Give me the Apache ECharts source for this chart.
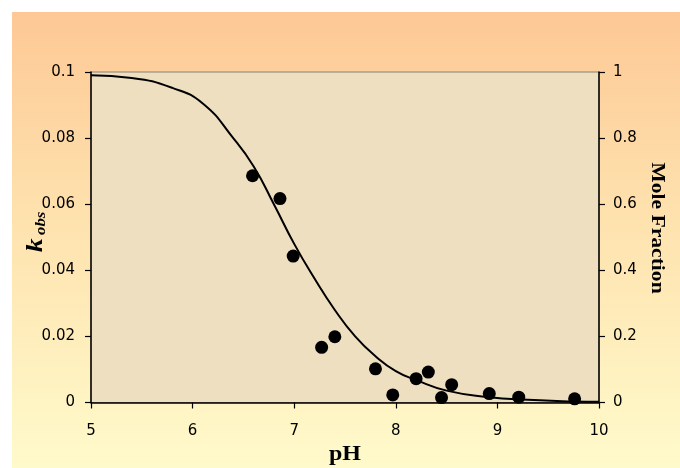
<!DOCTYPE html>
<html>
<head>
<meta charset="utf-8">
<script src="https://cdn.jsdelivr.net/npm/echarts@6/dist/echarts.min.js"></script>
<style>
  html, body { margin: 0; padding: 0; background: #ffffff; }
  #chart { width: 680px; height: 468px; }
</style>
</head>
<body>
<div id="chart"></div>
<script>
// Measured rate constants versus pH
const phObs = [6.59, 6.86, 6.99, 7.27, 7.40, 7.80, 7.97, 8.20, 8.32, 8.45, 8.55, 8.92, 9.21, 9.76];
const kObs  = [0.0686, 0.0617, 0.0443, 0.0167, 0.0199, 0.0102, 0.0023, 0.0072, 0.0092, 0.0015, 0.0054, 0.0027, 0.0016, 0.0011];

// Mole fraction curve (right axis)
const phCurve   = [5.0, 5.4, 5.8, 6.1, 6.4, 6.6, 6.8, 7.0, 7.2, 7.4, 7.6, 7.8, 8.0, 8.2, 8.5, 8.9, 9.3, 9.75, 10.0];
const fracCurve = [0.99, 0.982, 0.952, 0.905, 0.80, 0.715, 0.60, 0.48, 0.375, 0.28, 0.20, 0.14, 0.095, 0.068, 0.036, 0.017, 0.008, 0.003, 0.002];

const xTicks = { min: 5, max: 10, interval: 1 };
const kTicks = { min: 0, max: 0.1, interval: 0.02 };
const fTicks = { min: 0, max: 1, interval: 0.2 };

const chart = echarts.init(document.getElementById('chart'), null, { renderer: 'canvas' });

const serif = 'Liberation Serif, Times New Roman, serif';
const labelFont = { fontFamily: 'DejaVu Sans, sans-serif', fontSize: 15, color: '#000' };
const axisLine = { show: true, lineStyle: { color: '#000', width: 1.5 } };
const axisTick = { show: true, length: 6, lineStyle: { color: '#000', width: 1.2 } };

chart.setOption({
  animation: false,
  graphic: [{
    type: 'rect',
    z: -10,
    silent: true,
    shape: { x: 12, y: 12, width: 668, height: 456 },
    style: {
      fill: new echarts.graphic.LinearGradient(0, 0, 0, 1, [
        { offset: 0, color: '#fdc895' },
        { offset: 0.45, color: '#fee2ae' },
        { offset: 1, color: '#fffacb' }
      ])
    }
  }, {
    // axis titles (text drawn slightly wide, as in the original chart)
    type: 'text',
    x: 345, y: 455,
    scaleX: 1.2,
    style: { text: 'pH', font: 'bold 20px ' + serif, fill: '#000', align: 'center', verticalAlign: 'middle' }
  }, {
    type: 'text',
    x: 657, y: 228,
    rotation: -Math.PI / 2,
    scaleX: 1.2,
    style: { text: 'Mole Fraction', font: 'bold 18px ' + serif, fill: '#000', align: 'center', verticalAlign: 'middle' }
  }, {
    type: 'text',
    x: 36, y: 232,
    rotation: Math.PI / 2,
    scaleX: 1.2,
    style: {
      text: '{k|k}{s|obs}',
      align: 'center', verticalAlign: 'middle',
      rich: {
        k: { fontFamily: serif, fontStyle: 'italic', fontWeight: 'bold', fontSize: 23, fill: '#000', lineHeight: 24, verticalAlign: 'bottom' },
        s: { fontFamily: serif, fontStyle: 'italic', fontWeight: 'bold', fontSize: 14, fill: '#000', lineHeight: 24, verticalAlign: 'bottom', padding: [0, 0, 0, 3] }
      }
    }
  }],
  grid: {
    left: 91, right: 81, top: 72, bottom: 65.5,
    show: true,
    backgroundColor: '#eedfc0',
    borderColor: '#8c7f72',
    borderWidth: 1
  },
  xAxis: {
    type: 'value',
    min: xTicks.min, max: xTicks.max, interval: xTicks.interval,
    axisLine: axisLine,
    axisTick: axisTick,
    axisLabel: Object.assign({ margin: 21 }, labelFont),
    splitLine: { show: false }
  },
  yAxis: [{
    type: 'value',
    position: 'left',
    min: kTicks.min, max: kTicks.max, interval: kTicks.interval,
    axisLine: axisLine,
    axisTick: axisTick,
    axisLabel: Object.assign({ margin: 16, formatter: v => String(+v.toFixed(2)) }, labelFont),
    splitLine: { show: false }
  }, {
    type: 'value',
    position: 'right',
    min: fTicks.min, max: fTicks.max, interval: fTicks.interval,
    axisLine: axisLine,
    axisTick: axisTick,
    axisLabel: Object.assign({ margin: 14, formatter: v => String(+v.toFixed(1)) }, labelFont),
    splitLine: { show: false }
  }],
  series: [{
    type: 'line',
    yAxisIndex: 1,
    data: phCurve.map((p, i) => [p, fracCurve[i]]),
    showSymbol: false,
    smooth: 0.5,
    lineStyle: { color: '#000', width: 2 },
    z: 2
  }, {
    type: 'scatter',
    yAxisIndex: 0,
    data: phObs.map((p, i) => [p, kObs[i]]),
    symbol: 'circle',
    symbolSize: 13,
    itemStyle: { color: '#000', opacity: 1 },
    z: 3
  }]
});
</script>
</body>
</html>
